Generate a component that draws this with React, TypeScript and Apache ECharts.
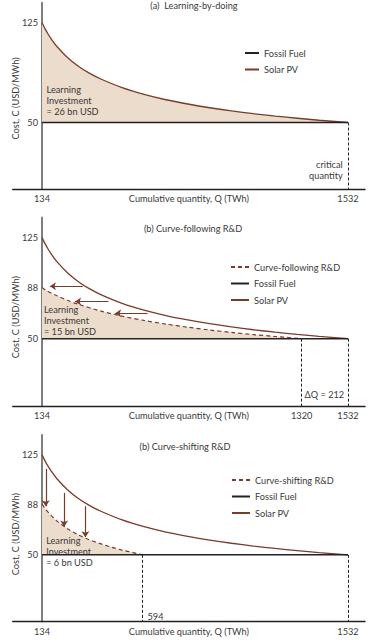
import React, { useEffect, useRef } from "react";
import * as echarts from "echarts";

// ---------------- data ----------------
const Q_SOLAR = [134, 140, 150, 160, 175, 200, 250, 300, 350, 400, 500, 600, 700, 800, 900, 1000, 1100, 1200, 1300, 1400, 1532];
const C_SOLAR = [125, 123, 119.8, 116.9, 113.1, 107.5, 98.9, 92.3, 87.1, 82.9, 76.2, 71.1, 67.1, 63.9, 61.1, 58.7, 56.6, 54.8, 53.2, 51.7, 50];
const Q_FOLLOW = [134, 150, 200, 250, 300, 400, 500, 600, 700, 800, 900, 1000, 1100, 1200, 1320];
const C_FOLLOW = [88, 86, 82, 78.5, 75.5, 70.6, 66.7, 63.5, 60.8, 58.5, 56.4, 54.6, 53, 51.6, 50];
const Q_SHIFT = [134, 150, 175, 200, 250, 300, 350, 400, 450, 500, 550, 594];
const C_SHIFT = [88, 84.3, 79.6, 75.7, 69.6, 65, 61.3, 58.4, 55.8, 53.6, 51.7, 50];
const Q_FOSSIL = [134, 1532];
const C_FOSSIL = [50, 50];
const COST_FOSSIL = 50;

const X_TICKS = [[134, 1532], [134, 1320, 1532], [134, 1532]];
const Y_TICKS = [[50, 125], [50, 88, 125], [50, 88, 125]];
const Q_DROP = [[1532], [1320, 1532], [594, 1532]];
const ARROWS_FOLLOW = [[320, 170, 88.9], [437, 285, 77.5], [616, 468, 68.8]]; // [fromQ, toQ, C]
const ARROWS_SHIFT = [[151, 114.5, 86.5], [235, 96.5, 71.3], [332, 86.5, 63.3]]; // [Q, fromC, toC]

const TITLES = ["(a)  Learning-by-doing", "(b) Curve-following R&D", "(b) Curve-shifting R&D"];
const INVEST = ["Learning\nInvestment\n= 26 bn USD", "Learning\nInvestment\n= 15 bn USD", "Learning\nInvestment\n= 6 bn USD"];
const X_NAME = "Cumulative quantity, Q (TWh)";
const Y_NAME = "Cost, C (USD/MWh)";

// ---------------- layout / style ----------------
const X_MIN = 0, X_MAX = 1610, Y_MIN = 0, Y_MAX = 140;
const Q_AXIS = 134;
const GRID_LEFT = 12.7, GRID_W = 352.4;
const GRID_BOX = [
  { top: 2.8, height: 186.2 },
  { top: 217.4, height: 188.6 },
  { top: 434.9, height: 186.6 },
];
const Y_NAME_PAD = [5, 11, 12];
const INVEST_AT = [[157, 66.3], [145, 62.8], [155, 52.5]];
const TITLE_AT = [[194, 5], [193, 228], [185, 446]];
const LEGEND_AT = [
  { left: 244, top: 47, w: 14 },
  { left: 230, top: 261, w: 18 },
  { left: 231, top: 474, w: 18 },
];

const FONT = "Lato, 'Open Sans', sans-serif";
const TEXT = "#3a3a3a";
const BROWN = "#7b3b2a";
const FILL = "#ecdccb";
const DARK = "#222222";
const FS = 9.2;

const zip = (xs: number[], ys: number[]) => xs.map((x, i) => [x, ys[i]]);

const note = (coord: number[], text: string, align: string) => ({
  coord,
  value: 0,
  symbol: "circle",
  symbolSize: 1,
  itemStyle: { color: "rgba(0,0,0,0)" },
  label: {
    show: true,
    position: [0, 0],
    align,
    verticalAlign: "middle",
    formatter: text,
    color: TEXT,
    fontFamily: FONT,
    fontSize: FS,
    lineHeight: 11,
  },
});

function buildOption() {
  const yOffset = -((Q_AXIS - X_MIN) / (X_MAX - X_MIN)) * GRID_W;
  const grid = GRID_BOX.map((g) => ({
    left: GRID_LEFT,
    width: GRID_W,
    top: g.top,
    height: g.height,
    outerBoundsMode: "none",
    containLabel: false,
  }));
  const xAxis = GRID_BOX.map((_, i) => ({
    type: "value",
    gridIndex: i,
    min: X_MIN,
    max: X_MAX,
    axisLine: { show: true, onZero: false, lineStyle: { color: DARK, width: 1.3 } },
    axisTick: { show: false },
    splitLine: { show: false },
    axisLabel: {
      customValues: X_TICKS[i],
      formatter: (v: number) => String(v),
      color: TEXT,
      fontFamily: FONT,
      fontSize: FS,
      margin: 5,
    },
    name: X_NAME,
    nameLocation: "middle",
    nameGap: 5,
    nameMoveOverlap: false,
    nameTextStyle: { color: TEXT, fontFamily: FONT, fontSize: FS },
  }));
  const yAxis = GRID_BOX.map((_, i) => ({
    type: "value",
    gridIndex: i,
    min: Y_MIN,
    max: Y_MAX,
    position: "left",
    offset: yOffset,
    axisLine: { show: true, onZero: false, lineStyle: { color: "#7f7f7f", width: 2 } },
    axisTick: { show: false },
    splitLine: { show: false },
    axisLabel: {
      customValues: Y_TICKS[i],
      formatter: (v: number) => String(v),
      color: TEXT,
      fontFamily: FONT,
      fontSize: FS,
      margin: 4,
    },
    name: Y_NAME,
    nameLocation: "middle",
    nameGap: 22,
    nameMoveOverlap: false,
    nameTextStyle: {
      color: TEXT,
      fontFamily: FONT,
      fontSize: FS,
      padding: [0, Y_NAME_PAD[i], 0, 0],
    },
  }));

  const dropLines = (i: number) => ({
    silent: true,
    symbol: "none",
    label: { show: false },
    lineStyle: { type: [3, 2], color: DARK, width: 1 },
    emphasis: { disabled: true },
    data: Q_DROP[i].map((q) => [{ coord: [q, COST_FOSSIL] }, { coord: [q, Y_MIN] }]),
  });

  const solar = (i: number, fill: boolean, extra: any = {}) => ({
    type: "line",
    name: "Solar PV",
    xAxisIndex: i,
    yAxisIndex: i,
    data: zip(Q_SOLAR, C_SOLAR),
    symbol: "none",
    smooth: 0.3,
    lineStyle: { color: BROWN, width: 1.3 },
    itemStyle: { color: BROWN },
    areaStyle: fill ? { color: FILL, opacity: 1, origin: COST_FOSSIL } : undefined,
    z: 4,
    silent: true,
    ...extra,
  });

  const fossil = (i: number, notes: any[]) => ({
    type: "line",
    name: "Fossil Fuel",
    xAxisIndex: i,
    yAxisIndex: i,
    data: zip(Q_FOSSIL, C_FOSSIL),
    symbol: "none",
    lineStyle: { color: DARK, width: 1.5 },
    itemStyle: { color: DARK },
    z: 5,
    silent: true,
    markLine: dropLines(i),
    markPoint: { silent: true, data: notes },
  });

  const arrowStyle = {
    silent: true,
    symbol: ["none", "arrow"],
    symbolSize: 6,
    label: { show: false },
    lineStyle: { type: "solid", color: BROWN, width: 1.2 },
    itemStyle: { color: BROWN },
    emphasis: { disabled: true },
  };

  const series: any[] = [
    // (a)
    solar(0, true),
    fossil(0, [
      note(INVEST_AT[0], INVEST[0], "left"),
      note([1510, 13.9], "critical\nquantity", "right"),
    ]),
    // (b)
    solar(1, false, {
      markLine: {
        ...arrowStyle,
        data: ARROWS_FOLLOW.map(([q0, q1, c]) => [{ coord: [q0, c] }, { coord: [q1, c] }]),
      },
    }),
    {
      type: "line",
      name: "Curve-following R&D",
      xAxisIndex: 1,
      yAxisIndex: 1,
      data: zip(Q_FOLLOW, C_FOLLOW),
      symbol: "none",
      smooth: 0.3,
      lineStyle: { color: BROWN, width: 1.2, type: [4, 3] },
      itemStyle: { color: BROWN },
      areaStyle: { color: FILL, opacity: 1, origin: COST_FOSSIL },
      z: 3,
      silent: true,
    },
    fossil(1, [
      note(INVEST_AT[1], INVEST[1], "left"),
      note([1426, 7.9], "ΔQ = 212", "center"),
    ]),
    // (c)
    solar(2, false, {
      markLine: {
        ...arrowStyle,
        data: ARROWS_SHIFT.map(([q, c0, c1]) => [{ coord: [q, c0] }, { coord: [q, c1] }]),
      },
    }),
    {
      type: "line",
      name: "Curve-shifting R&D",
      xAxisIndex: 2,
      yAxisIndex: 2,
      data: zip(Q_SHIFT, C_SHIFT),
      symbol: "none",
      smooth: 0.3,
      lineStyle: { color: BROWN, width: 1.2, type: [4, 3] },
      itemStyle: { color: BROWN },
      areaStyle: { color: FILL, opacity: 1, origin: COST_FOSSIL },
      z: 3,
      silent: true,
    },
    fossil(2, [
      note(INVEST_AT[2], INVEST[2], "left"),
      note([618, 3.2], "594", "left"),
    ]),
  ];

  const legendNames = [
    ["Fossil Fuel", "Solar PV"],
    ["Curve-following R&D", "Fossil Fuel", "Solar PV"],
    ["Curve-shifting R&D", "Fossil Fuel", "Solar PV"],
  ];
  const legend = LEGEND_AT.map((l, i) => ({
    data: legendNames[i],
    orient: "vertical",
    left: l.left,
    top: l.top,
    itemWidth: l.w,
    itemHeight: 8,
    itemGap: 4.5,
    padding: 0,
    selectedMode: false,
    itemStyle: { opacity: 0 },
    textStyle: { color: TEXT, fontFamily: FONT, fontSize: FS, lineHeight: 12 },
  }));

  const graphic = TITLES.map((t, i) => ({
    type: "text",
    x: TITLE_AT[i][0],
    y: TITLE_AT[i][1],
    silent: true,
    style: {
      text: t,
      align: "center",
      verticalAlign: "middle",
      fill: TEXT,
      fontFamily: FONT,
      fontSize: FS,
    },
  }));

  return {
    animation: false,
    backgroundColor: "#ffffff",
    textStyle: { fontFamily: FONT },
    grid,
    xAxis,
    yAxis,
    legend,
    series,
    graphic,
  };
}

export default function App() {
  const ref = useRef<HTMLDivElement>(null);
  useEffect(() => {
    if (!ref.current) return;
    const chart = echarts.init(ref.current, undefined, { renderer: "svg" });
    chart.setOption(buildOption() as any);
    return () => chart.dispose();
  }, []);
  return (
    <div
      ref={ref}
      style={{ position: "fixed", left: 0, top: 0, width: 385, height: 640, background: "#fff" }}
    />
  );
}
